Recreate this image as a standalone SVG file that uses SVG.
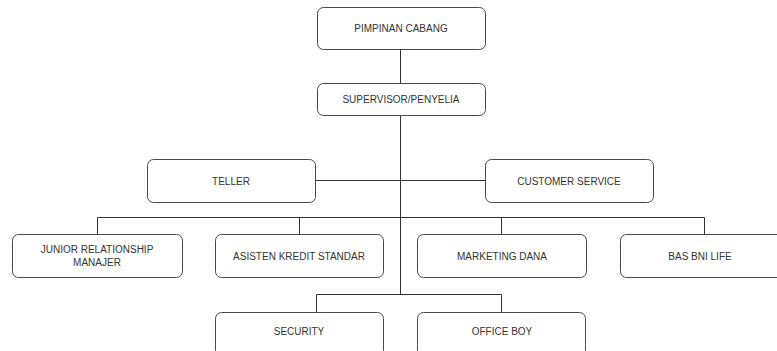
<svg xmlns="http://www.w3.org/2000/svg" width="777" height="351" viewBox="0 0 777 351">
<style>
.box{fill:#fff;stroke:#4a4a4a;stroke-width:1}
.lbl{font-family:"Liberation Sans",Arial,sans-serif;font-size:10px;fill:#333;text-anchor:middle;dominant-baseline:central}
.con{fill:none;stroke:#333;stroke-width:1}
</style>
<rect width="777" height="351" fill="#fff"/>
<g id="connectors">
<path class="con" d="M400.5 49V83"/>
<path class="con" d="M400.5 115V294"/>
<path class="con" d="M315 180.5H485"/>
<path class="con" d="M97.5 234V217.5H704.5V234"/>
<path class="con" d="M299.5 217.5V234"/>
<path class="con" d="M501.5 217.5V234"/>
<path class="con" d="M316.5 312V294.5H501.5V312"/>
</g>
<g id="pimpinan"><rect class="box" x="317.5" y="7.5" width="168" height="42" rx="6"/><text class="lbl" x="401" y="28.5">PIMPINAN CABANG</text></g>
<g id="supervisor"><rect class="box" x="317.5" y="83.5" width="168" height="32" rx="6"/><text class="lbl" x="401" y="99.5">SUPERVISOR/PENYELIA</text></g>
<g id="teller"><rect class="box" x="147.5" y="159.5" width="168" height="43" rx="6"/><text class="lbl" x="231" y="181">TELLER</text></g>
<g id="cs"><rect class="box" x="485.5" y="159.5" width="168" height="43" rx="6"/><text class="lbl" x="569" y="181">CUSTOMER SERVICE</text></g>
<g id="junior"><rect class="box" x="12.5" y="234.5" width="170" height="43" rx="6"/><text class="lbl" x="97" y="249.5">JUNIOR RELATIONSHIP</text><text class="lbl" x="97" y="262">MANAJER</text></g>
<g id="asisten"><rect class="box" x="215.5" y="234.5" width="168" height="43" rx="6"/><text class="lbl" x="299" y="256">ASISTEN KREDIT STANDAR</text></g>
<g id="marketing"><rect class="box" x="417.5" y="234.5" width="169" height="43" rx="6"/><text class="lbl" x="502" y="256">MARKETING DANA</text></g>
<g id="bas"><rect class="box" x="620.5" y="234.5" width="168" height="43" rx="6"/><text class="lbl" x="700" y="256">BAS BNI LIFE</text></g>
<g id="security"><rect class="box" x="215.5" y="312.5" width="168" height="44" rx="6"/><text class="lbl" x="299" y="331.5">SECURITY</text></g>
<g id="officeboy"><rect class="box" x="417.5" y="312.5" width="168" height="44" rx="6"/><text class="lbl" x="502" y="331.5">OFFICE BOY</text></g>
</svg>
